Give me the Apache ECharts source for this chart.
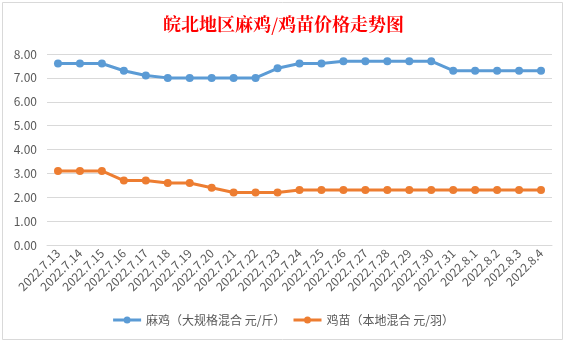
<!DOCTYPE html>
<html><head><meta charset="utf-8">
<script src="https://cdn.jsdelivr.net/npm/echarts@6/dist/echarts.min.js"></script>
<style>html,body{margin:0;padding:0;background:#fff;}#c{width:567px;height:345px;}</style>
</head><body><div id="c"></div>
<script>
const categories = ['2022.7.13','2022.7.14','2022.7.15','2022.7.16','2022.7.17','2022.7.18','2022.7.19','2022.7.20','2022.7.21','2022.7.22','2022.7.23','2022.7.24','2022.7.25','2022.7.26','2022.7.27','2022.7.28','2022.7.29','2022.7.30','2022.7.31','2022.8.1','2022.8.2','2022.8.3','2022.8.4'];
const maji = [7.6,7.6,7.6,7.3,7.1,7.0,7.0,7.0,7.0,7.0,7.4,7.6,7.6,7.7,7.7,7.7,7.7,7.7,7.3,7.3,7.3,7.3,7.3];
const jimiao = [3.1,3.1,3.1,2.7,2.7,2.6,2.6,2.4,2.2,2.2,2.2,2.3,2.3,2.3,2.3,2.3,2.3,2.3,2.3,2.3,2.3,2.3,2.3];
const seriesNames = ['麻鸡（大规格混合 元/斤）','鸡苗（本地混合 元/羽）'];
const titleText = '皖北地区麻鸡/鸡苗价格走势图';

const chart = echarts.init(document.getElementById('c'), null, {renderer:'canvas'});
const font = '"Microsoft YaHei","Noto Sans CJK SC",sans-serif';
const iconPath = 'path://M0,2.5 L28,2.5 L28,5.5 L0,5.5 Z M10.5,4 A3.5,3.5 0 1 1 17.5,4 A3.5,3.5 0 1 1 10.5,4 Z';
chart.setOption({
  backgroundColor:'#ffffff',
  animation:false,
  graphic:[{type:'rect',shape:{x:2.5,y:2.5,width:560,height:337},style:{fill:'none',stroke:'#d9d9d9',lineWidth:1},z:-1}],
  title:{text:titleText,left:'center',top:10,textStyle:{color:'#ff0000',fontSize:18,fontWeight:'bold',fontFamily:'"Noto Serif CJK SC","Noto Sans CJK SC",serif'}},
  legend:{bottom:14,left:'center',itemWidth:28,itemHeight:8,itemGap:8,
    textStyle:{color:'#595959',fontSize:12,fontFamily:font},
    data:seriesNames.map(n=>({name:n,icon:iconPath}))},
  grid:{left:47,right:15,top:54,bottom:100},
  xAxis:{type:'category',data:categories,boundaryGap:true,
    axisLine:{show:true,lineStyle:{color:'#d9d9d9'}},axisTick:{show:false},
    axisLabel:{rotate:45,interval:0,color:'#595959',fontSize:12,fontFamily:font,margin:6}},
  yAxis:{type:'value',min:0,max:8,interval:1,
    axisLine:{show:false},axisTick:{show:false},
    splitLine:{lineStyle:{color:'#d9d9d9'}},
    axisLabel:{color:'#595959',fontSize:12,fontFamily:font,formatter:v=>v.toFixed(2),margin:10}},
  series:[
    {name:seriesNames[0],type:'line',data:maji,symbol:'circle',symbolSize:8,
     lineStyle:{width:3,color:'#5b9bd5'},itemStyle:{color:'#5b9bd5'}},
    {name:seriesNames[1],type:'line',data:jimiao,symbol:'circle',symbolSize:8,
     lineStyle:{width:3,color:'#ed7d31'},itemStyle:{color:'#ed7d31'}}
  ]
});
</script></body></html>
